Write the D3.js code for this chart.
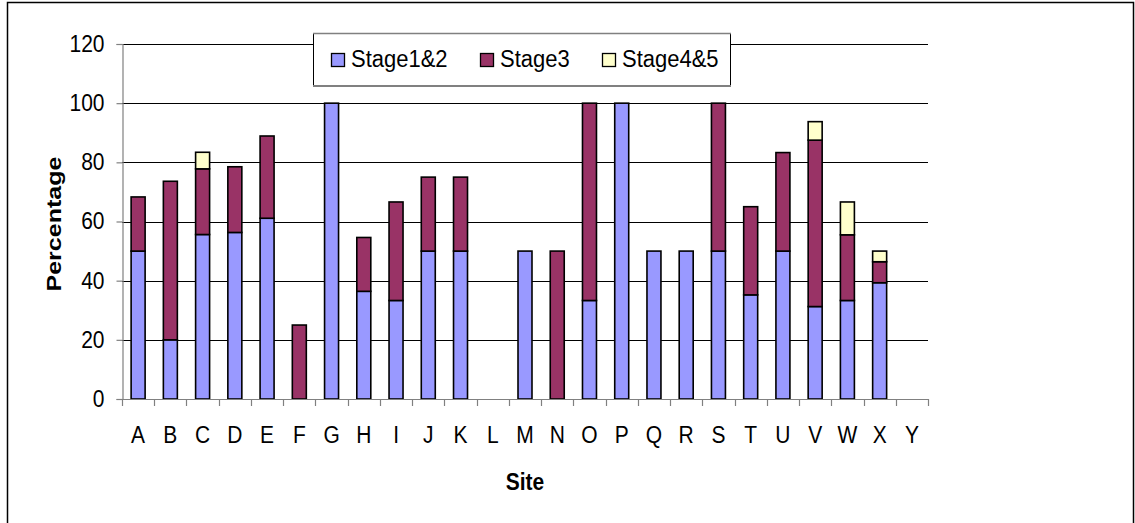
<!DOCTYPE html>
<html>
<head>
<meta charset="utf-8">
<script src="https://cdn.jsdelivr.net/npm/d3@7"></script>
<style>
  html, body { margin: 0; padding: 0; background: #fff; }
  svg { display: block; }
  text { font-family: "Liberation Sans", Arial, sans-serif; fill: #000; }
</style>
</head>
<body>
<svg id="chart" width="1135" height="523"></svg>
<script>
const categories = ["A","B","C","D","E","F","G","H","I","J","K","L","M","N","O","P","Q","R","S","T","U","V","W","X","Y"];
const stage12 = [50,20,55.6,56.3,61.1,0,100,36.4,33.3,50,50,0,50,0,33.3,100,50,50,50,35.2,50,31.25,33.3,39.3,0];
const stage3  = [18.3,53.6,22.2,22.2,27.8,25,0,18.2,33.3,25,25,0,0,50,66.7,0,0,0,50,29.8,33.3,56.25,22.2,7.1,0];
const stage45 = [0,0,5.6,0,0,0,0,0,0,0,0,0,0,0,0,0,0,0,0,0,0,6.25,11.1,3.6,0];
const seriesNames = ["Stage1&2","Stage3","Stage4&5"];
const seriesColors = ["#9999FF","#993366","#FFFFCC"];
const yTicks = [0,20,40,60,80,100,120];

const svg = d3.select("#chart");
const L = 122, R = 928, T = 44, B = 399;
const VS = 1.1; // vertical stretch of glyphs seen in reference

// outer border
svg.append("rect").attr("x",7.5).attr("y",2.5).attr("width",1126).attr("height",530)
  .attr("fill","none").attr("stroke","#000").attr("stroke-width",1.5);

const x = d3.scaleBand().domain(categories).range([L,R]).paddingInner(0.566).paddingOuter(0.283);
const y = d3.scaleLinear().domain([0,120]).range([B,T]);

// gridlines
svg.append("g").selectAll("line").data(yTicks.filter(d=>d>0)).join("line")
  .attr("x1",L).attr("x2",R).attr("y1",d=>Math.round(y(d))+0.5).attr("y2",d=>Math.round(y(d))+0.5)
  .attr("stroke","#000").attr("stroke-width",1);

// stacked data
const rows = categories.map((c,i)=>({cat:c, "Stage1&2":stage12[i], "Stage3":stage3[i], "Stage4&5":stage45[i]}));
const stack = d3.stack().keys(seriesNames)(rows);

const gBars = svg.append("g");
stack.forEach((layer,si)=>{
  gBars.append("g").selectAll("rect").data(layer.filter(d=>d[1]-d[0]>0)).join("rect")
    .attr("x",d=>x(d.data.cat))
    .attr("width",x.bandwidth())
    .attr("y",d=>y(d[1]))
    .attr("height",d=>y(d[0])-y(d[1]))
    .attr("fill",seriesColors[si])
    .attr("stroke","#000").attr("stroke-width",1.6);
});

// y axis
const yAxis = d3.axisLeft(y).tickValues(yTicks).tickSize(6).tickPadding(12).tickFormat(d3.format("d"));
const gy = svg.append("g").attr("transform",`translate(${L+0.5},0)`).call(yAxis);
gy.select(".domain").attr("stroke","#808080").attr("stroke-width",1.2);
gy.selectAll(".tick line").attr("stroke","#808080").attr("stroke-width",1.2);
gy.selectAll(".tick text").style("font-size","21px").style("font-family","Liberation Sans, Arial, sans-serif")
  .attr("transform",`scale(1,${VS})`);

// x axis (ticks at category boundaries)
const step = x.step();
const boundaries = d3.range(categories.length+1).map(i=>L+i*step);
const gx = svg.append("g");
gx.append("line").attr("x1",L).attr("x2",R).attr("y1",B+0.5).attr("y2",B+0.5)
  .attr("stroke","#808080").attr("stroke-width",1.2);
gx.selectAll("line.tk").data(boundaries).join("line").attr("class","tk")
  .attr("x1",d=>Math.round(d)+0.5).attr("x2",d=>Math.round(d)+0.5).attr("y1",B).attr("y2",B+7)
  .attr("stroke","#808080").attr("stroke-width",1.2);
gx.selectAll("text").data(categories).join("text")
  .attr("transform",d=>`translate(${x(d)+x.bandwidth()/2},443) scale(1,${VS})`)
  .attr("text-anchor","middle").style("font-size","21px").text(d=>d);

// axis titles
svg.append("text").attr("transform",`translate(${(L+R)/2},490) scale(1,${VS})`).attr("text-anchor","middle")
  .style("font-size","21px").style("font-weight","bold").text("Site");
svg.append("text").attr("transform","translate(61,224) rotate(-90)").attr("text-anchor","middle")
  .style("font-size","21px").style("font-weight","bold")
  .attr("textLength",135).attr("lengthAdjust","spacingAndGlyphs").text("Percentage");

// legend
const lg = svg.append("g");
lg.append("rect").attr("x",313.5).attr("y",33.5).attr("width",417).attr("height",52)
  .attr("fill","#fff").attr("stroke","#000").attr("stroke-width",1);
lg.append("line").attr("x1",313).attr("x2",731).attr("y1",33.5).attr("y2",33.5).attr("stroke","#808080").attr("stroke-width",1.5);
lg.append("line").attr("x1",313).attr("x2",731).attr("y1",86).attr("y2",86).attr("stroke","#808080").attr("stroke-width",2);
const legX = [331, 480, 602];
seriesNames.forEach((n,i)=>{
  lg.append("rect").attr("x",legX[i]+0.5).attr("y",53.5).attr("width",13).attr("height",13)
    .attr("fill",seriesColors[i]).attr("stroke","#000").attr("stroke-width",1.3);
  lg.append("text").attr("transform",`translate(${legX[i]+20},66.5) scale(1,${VS})`).style("font-size","22px").text(n);
});
</script>
</body>
</html>
